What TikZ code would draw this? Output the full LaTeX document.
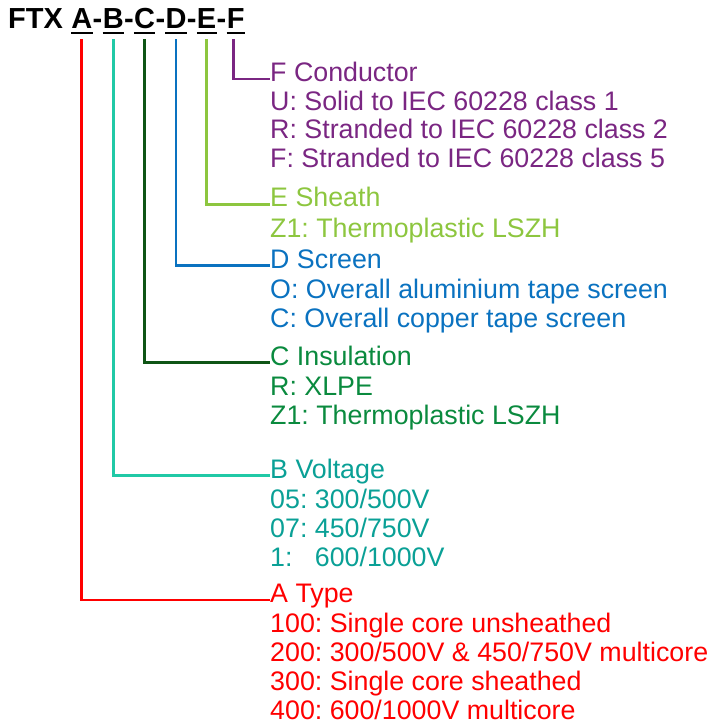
\documentclass[tikz,border=0pt]{standalone}
\usepackage{fontspec}
\setmainfont{Liberation Sans}
\frenchspacing
\definecolor{cF}{HTML}{7A2682}
\definecolor{cE}{HTML}{8DC63F}
\definecolor{cD}{HTML}{0A72C0}
\definecolor{cCl}{HTML}{0F5515}
\definecolor{cCt}{HTML}{0A8A3E}
\definecolor{cBl}{HTML}{20C9A6}
\definecolor{cBt}{HTML}{0AA096}
\definecolor{cA}{HTML}{FF0000}
\begin{document}
\begin{tikzpicture}[x=1pt,y=1pt,
  conn/.style={line width=2.8pt},
  uline/.style={line width=2pt},
  ttl/.style={font=\fontsize{29}{29}\selectfont\bfseries, inner sep=0pt, anchor=base west, text depth=0pt},
  hd/.style={font=\fontsize{26.8}{29}\selectfont\frenchspacing, inner sep=0pt, anchor=base west, text height=0.72em, text depth=0.2em},
  opt/.style={font=\fontsize{26.8}{29}\selectfont\frenchspacing, inner sep=0pt, anchor=base west}]
\useasboundingbox (0,0) rectangle (710,-727);
% title
\node[ttl] (ftx) at (8,-29) {FTX};
\node[ttl] (la) at ([xshift=8pt]ftx.base east) {A};
\node[ttl] (h1) at (la.base east) {-};
\node[ttl] (lb) at (h1.base east) {B};
\node[ttl] (h2) at (lb.base east) {-};
\node[ttl] (lc) at (h2.base east) {C};
\node[ttl] (h3) at (lc.base east) {-};
\node[ttl] (ld) at (h3.base east) {D};
\node[ttl] (h4) at (ld.base east) {-};
\node[ttl] (le) at (h4.base east) {E};
\node[ttl] (h5) at (le.base east) {-};
\node[ttl] (lf) at (h5.base east) {F};
\foreach \l in {la,lb,lc,ld,le,lf}
  \draw[uline] ([yshift=-3.8pt]\l.south west) -- ([yshift=-3.8pt]\l.south east);
% F
\node[hd, text=cF] (fh) at (270,-81.7) {F Conductor};
\node[opt, text=cF] (f1) at (270,-110.3) {U: Solid to IEC 60228 class 1};
\node[opt, text=cF] (f2) at (270,-139) {R: Stranded to IEC 60228 class 2};
\node[opt, text=cF] (f3) at (270,-167.7) {F: Stranded to IEC 60228 class 5};
% E
\node[hd, text=cE] (eh) at (270,-207) {E Sheath};
\node[opt, text=cE] (e1) at (270,-237) {Z1: Thermoplastic LSZH};
% D
\node[hd, text=cD] (dh) at (270,-268) {D Screen};
\node[opt, text=cD] (d1) at (270,-298) {O: Overall aluminium tape screen};
\node[opt, text=cD] (d2) at (270,-327) {C: Overall copper tape screen};
% C
\node[hd, text=cCt] (ch) at (270,-365) {C Insulation};
\node[opt, text=cCt] (c1) at (270,-395) {R: XLPE};
\node[opt, text=cCt] (c2) at (270,-424.5) {Z1: Thermoplastic LSZH};
% B
\node[hd, text=cBt] (bh) at (270,-478) {B Voltage};
\node[opt, text=cBt] (b1) at (270,-508) {05: 300/500V};
\node[opt, text=cBt] (b2) at (270,-537) {07: 450/750V};
\node[opt, text=cBt] (b3) at (270,-566) {1:\hphantom{0} 600/1000V};
% A
\node[hd, text=cA] (ah) at (270,-602.5) {A Type};
\node[opt, text=cA] (a1) at (270,-632) {100: Single core unsheathed};
\node[opt, text=cA] (a2) at (270,-661.5) {200: 300/500V \& 450/750V multicore};
\node[opt, text=cA] (a3) at (270,-690.5) {300: Single core sheathed};
\node[opt, text=cA] (a4) at (270,-719.5) {400: 600/1000V multicore};
% connectors
\draw[conn, cF]  ([xshift=-2pt,yshift=-10pt]lf.south) |- (fh.west);
\draw[conn, cE]  ([yshift=-10pt]le.south) |- (eh.west);
\draw[conn, cD]  ([yshift=-10pt]ld.south) |- (dh.west);
\draw[conn, cCl] ([yshift=-10pt]lc.south) |- (ch.west);
\draw[conn, cBl] ([yshift=-10pt]lb.south) |- (bh.west);
\draw[conn, cA]  ([yshift=-10pt]la.south) |- (ah.west);
\end{tikzpicture}
\end{document}
